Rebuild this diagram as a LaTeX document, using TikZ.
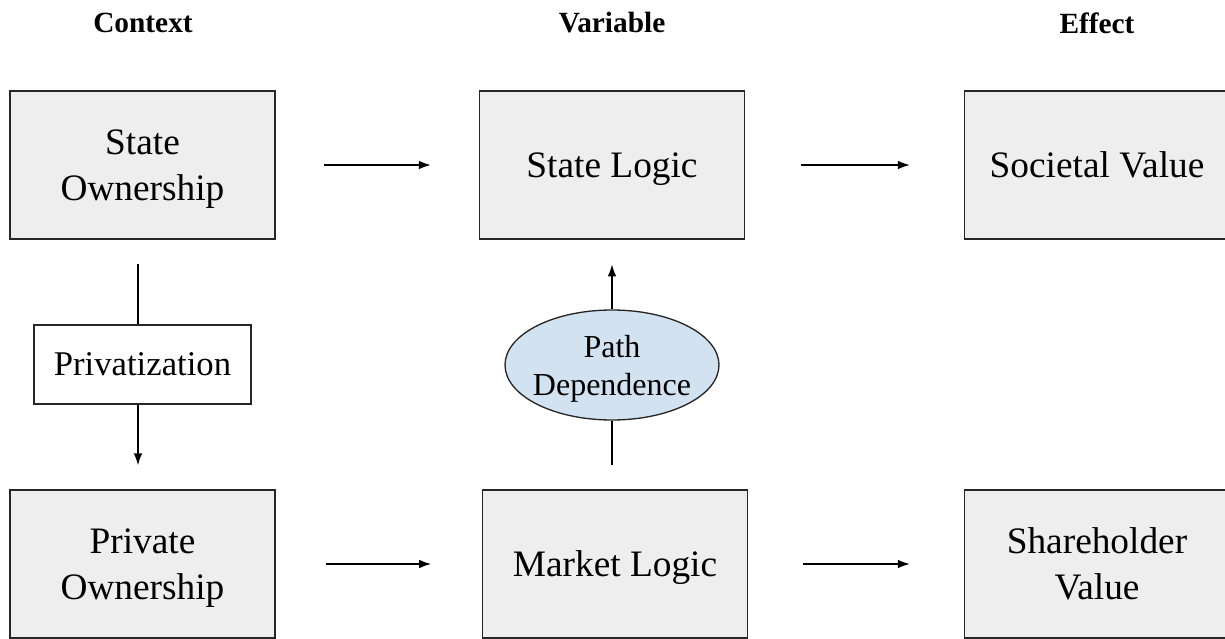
\documentclass[tikz,border=0pt]{standalone}
\usepackage{fontspec}
\setmainfont{Liberation Serif}
\usetikzlibrary{shapes.geometric,arrows.meta}
\definecolor{boxgray}{HTML}{EEEEEE}
\definecolor{pathblue}{HTML}{D3E2F1}
\tikzset{
  box/.style={draw=black!85,line width=1pt,fill=boxgray,align=center,
    minimum width=198.75pt,minimum height=111pt,inner sep=0pt,text depth=0pt,
    font=\fontsize{28}{34.5}\selectfont},
  hdr/.style={font=\fontsize{22}{26}\selectfont\bfseries},
  link/.style={line width=1.1pt,-{Latex[length=9pt,width=6.5pt]}}
}
\begin{document}
\begin{tikzpicture}[x=0.75pt,y=-0.75pt]
\useasboundingbox (0,0) rectangle (1225,639);
\node[hdr] (hctx) at (143,23) {Context};
\node[hdr] (hvar) at (612,23) {Variable};
\node[hdr] (heff) at (1097,23) {Effect};
\node[box] (sown) at (142.5,165) {State\\Ownership};
\node[box] (slog) at (612,165) {State Logic};
\node[box] (sval) at (1097,165) {Societal Value};
\node[box] (pown) at (142.5,564) {Private\\Ownership};
\node[box] (mlog) at (615,564) {Market Logic};
\node[box] (shval) at (1097,564) {Shareholder\\Value};
\node[draw=black!85,line width=1pt,fill=white,minimum width=162.75pt,minimum height=59.25pt,inner sep=0pt,
  font=\fontsize{26}{31}\selectfont] (priv) at (142.5,364.5) {Privatization};
\node[ellipse,draw=black!85,line width=1pt,fill=pathblue,minimum width=160.5pt,minimum height=82.5pt,
  inner sep=0pt] (pdep) at (612,365) {};
\node[align=center,text depth=0pt,font=\fontsize{24}{28.5}\selectfont] (pdtxt) at (pdep) {Path\\Dependence};
\draw[link,shorten <=36pt,shorten >=36pt] (sown) -- (slog);
\draw[link,shorten <=42pt,shorten >=40.5pt] (slog) -- (sval);
\draw[link,shorten <=37.5pt,shorten >=38pt] (pown) -- (pown -| mlog.west);
\draw[link,shorten <=41pt,shorten >=40.5pt] (mlog) -- (mlog -| shval.west);
\draw[line width=1.1pt,shorten <=18pt] ([xshift=-3.4pt]sown.south) -- ([xshift=-3.4pt]priv.north);
\draw[link,shorten >=18pt] ([xshift=-3.4pt]priv.south) -- ([xshift=-3.4pt]priv.south |- pown.north);
\draw[line width=1.1pt,shorten <=18pt] (pdep.south |- mlog.north) -- (pdep.south);
\draw[link,shorten >=18.5pt] (pdep.north) -- (slog.south);
\end{tikzpicture}
\end{document}
